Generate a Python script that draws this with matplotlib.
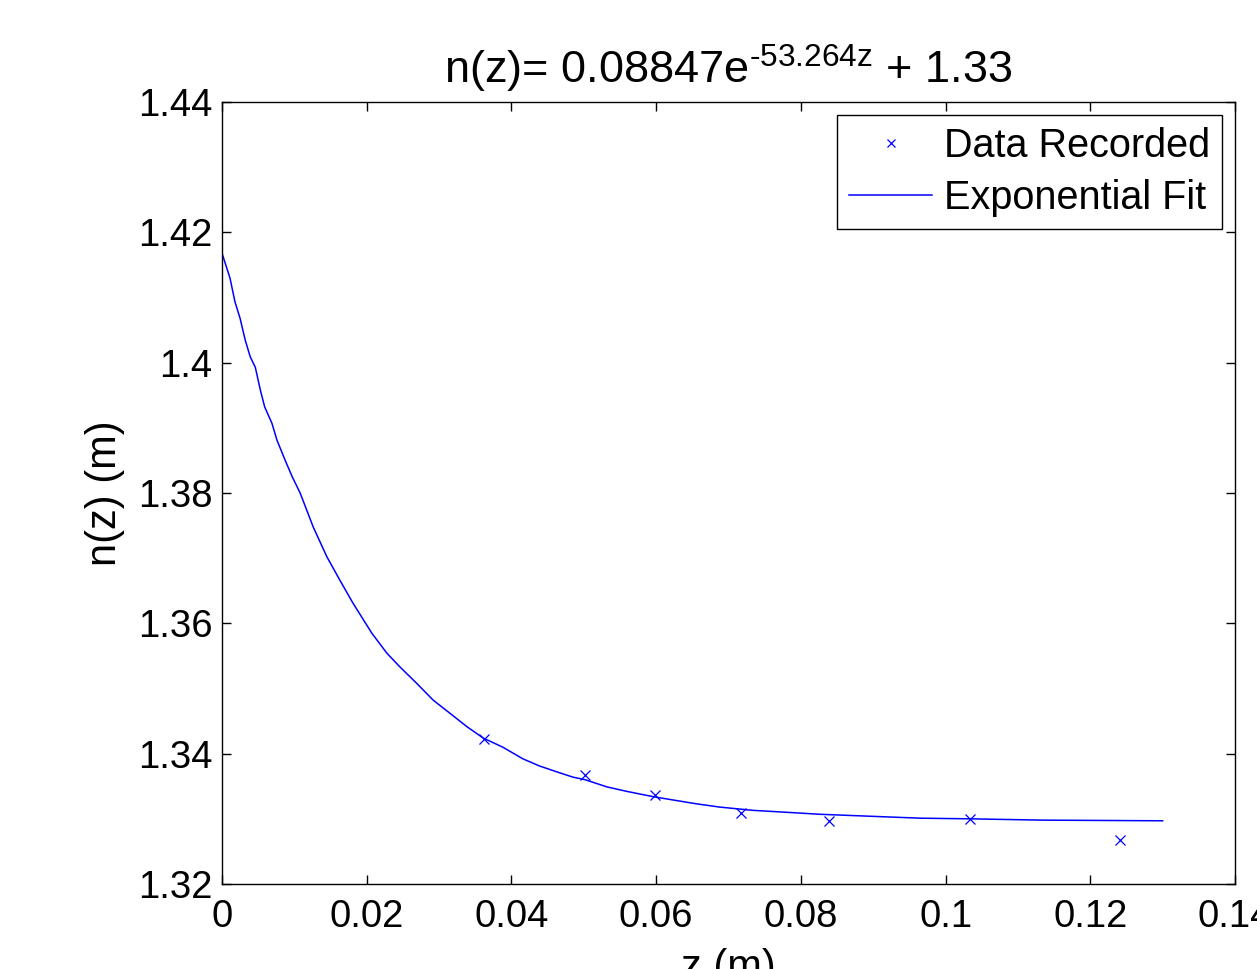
import matplotlib
matplotlib.use('Agg')
import matplotlib.pyplot as plt

# -----------------------------------------------------------------------------
#         Data
# -----------------------------------------------------------------------------
z_data = [0.0362, 0.0502, 0.0599, 0.0717, 0.0839, 0.1034, 0.1241]
n_data = [1.3422, 1.3367, 1.3336, 1.3309, 1.3297, 1.3300, 1.3268]

# exponential fit curve
z_fit = [0.0, 0.0011, 0.0018, 0.0025, 0.0032, 0.0039, 0.0046, 0.0053, 0.0059,
         0.0069, 0.0076, 0.0087, 0.0097, 0.0108, 0.0126, 0.0145, 0.0163, 0.0181,
         0.0207, 0.0228, 0.0246, 0.0269, 0.0292, 0.0315, 0.0339, 0.0361, 0.0388,
         0.0416, 0.0439, 0.0463, 0.0485, 0.0502, 0.0532, 0.0560, 0.0596, 0.0623,
         0.0656, 0.0688, 0.0734, 0.0781, 0.0826, 0.0872, 0.0965, 0.1034, 0.1135,
         0.1300]
n_fit = [1.4168, 1.4130, 1.4093, 1.4068, 1.4035, 1.4009, 1.3993, 1.3958, 1.3932,
         1.3907, 1.3881, 1.3851, 1.3825, 1.3800, 1.3748, 1.3702, 1.3666, 1.3631,
         1.3585, 1.3554, 1.3533, 1.3508, 1.3482, 1.3462, 1.3441, 1.3424, 1.3410,
         1.3392, 1.3381, 1.3372, 1.3364, 1.3360, 1.3349, 1.3342, 1.3334, 1.3329,
         1.3323, 1.3318, 1.3313, 1.3310, 1.3307, 1.3305, 1.3301, 1.3300, 1.3298,
         1.3297]

x_ticks = [0, 0.02, 0.04, 0.06, 0.08, 0.1, 0.12, 0.14]
y_ticks = [1.32, 1.34, 1.36, 1.38, 1.40, 1.42, 1.44]
x_labels = ['0', '0.02', '0.04', '0.06', '0.08', '0.1', '0.12', '0.14']
y_labels = ['1.32', '1.34', '1.36', '1.38', '1.4', '1.42', '1.44']

title = 'n(z)= 0.08847e$^{\u201053.264z}$ + 1.33'

# -----------------------------------------------------------------------------
#         Plot
# -----------------------------------------------------------------------------
plt.rcParams['font.family'] = ['Liberation Sans', 'DejaVu Sans']
plt.rcParams['mathtext.fontset'] = 'custom'
plt.rcParams['mathtext.rm'] = 'Liberation Sans'
plt.rcParams['mathtext.it'] = 'Liberation Sans'
plt.rcParams['mathtext.default'] = 'regular'

blue = (0, 0, 1)
fs = 27.5

fig = plt.figure(figsize=(12.57, 9.69), dpi=100)
ax = fig.add_axes([222 / 1257, 85 / 969, 1013 / 1257, 782 / 969])

ax.plot(z_data, n_data, 'x', color=blue, markersize=7, markeredgewidth=0.9,
        label='Data Recorded')
ax.plot(z_fit, n_fit, '-', color=blue, linewidth=1.1, label='Exponential Fit')

ax.set_xlim(0, 0.14)
ax.set_ylim(1.32, 1.44)
ax.set_xticks(x_ticks, x_labels)
ax.set_yticks(y_ticks, y_labels)
ax.tick_params(direction='in', length=6.5, width=1.0, top=True, right=True,
               labelsize=fs, colors='black')
ax.tick_params(axis='x', pad=11)
ax.tick_params(axis='y', pad=7)
for s in ax.spines.values():
    s.set_linewidth(1.0)

ax.set_xlabel('z (m)', fontsize=30, labelpad=9)
ax.set_ylabel('n(z) (m)', fontsize=30, labelpad=9)
ax.set_title(title, fontsize=32.5, pad=13)

leg = ax.legend(loc='upper right', fontsize=28.5, fancybox=False, framealpha=1,
                edgecolor='black', borderaxespad=0.33, borderpad=0.3,
                labelspacing=0.36, handlelength=2.1, handletextpad=0.3,
                markerscale=0.75)
leg.get_frame().set_linewidth(1.0)

fig.savefig('out.png', dpi=100)
